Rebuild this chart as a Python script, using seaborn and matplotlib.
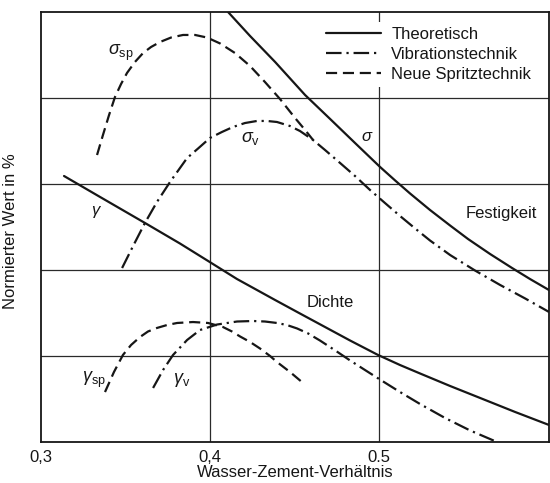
import numpy as np
import pandas as pd
import seaborn as sns
import matplotlib
matplotlib.use("Agg")
import matplotlib.pyplot as plt

# Festigkeit (sigma) curves
sig_th_x = [0.4108, 0.4238, 0.4386, 0.4563, 0.4711, 0.4858, 0.5006, 0.5095, 0.5183, 0.5301,
            0.5420, 0.5526, 0.5656, 0.5786, 0.5892, 0.6004]
sig_th_y = [5.000, 4.721, 4.419, 4.035, 3.756, 3.477, 3.198, 3.041, 2.890, 2.698,
            2.517, 2.360, 2.186, 2.023, 1.895, 1.767]

sig_v_x = [0.3482, 0.3547, 0.3617, 0.3688, 0.3765, 0.3866, 0.3931, 0.4001, 0.4072, 0.4137,
           0.4208, 0.4279, 0.4338, 0.4397, 0.4474, 0.4533, 0.4610, 0.4681, 0.4770, 0.4858,
           0.4947, 0.5035, 0.5124, 0.5213, 0.5301, 0.5420, 0.5567, 0.5715, 0.5863, 0.6004]
sig_v_y = [2.023, 2.279, 2.547, 2.791, 3.023, 3.302, 3.413, 3.535, 3.605, 3.663,
           3.709, 3.733, 3.733, 3.721, 3.674, 3.616, 3.512, 3.395, 3.244, 3.093,
           2.930, 2.779, 2.628, 2.483, 2.343, 2.174, 1.994, 1.826, 1.669, 1.512]

sig_sp_x = [0.3334, 0.3369, 0.3405, 0.3440, 0.3476, 0.3511, 0.3558, 0.3606, 0.3653, 0.3706,
            0.3771, 0.3842, 0.3913, 0.3984, 0.4061, 0.4149, 0.4238, 0.4326, 0.4415, 0.4504,
            0.4563, 0.4610]
sig_sp_y = [3.337, 3.570, 3.802, 4.012, 4.163, 4.291, 4.419, 4.523, 4.593, 4.651,
            4.703, 4.733, 4.733, 4.703, 4.634, 4.523, 4.372, 4.186, 3.988, 3.767,
            3.628, 3.512]

# Dichte (gamma) curves
gam_th_x = [0.3139, 0.3352, 0.3617, 0.3824, 0.3990, 0.4161, 0.4386, 0.4533, 0.4681, 0.4829,
            0.4994, 0.5124, 0.5242, 0.5420, 0.5597, 0.5804, 0.6004]
gam_th_y = [3.093, 2.849, 2.547, 2.308, 2.105, 1.895, 1.651, 1.494, 1.337, 1.180,
            1.012, 0.895, 0.797, 0.651, 0.512, 0.349, 0.198]

gam_v_x = [0.3665, 0.3724, 0.3783, 0.3866, 0.3942, 0.4043, 0.4161, 0.4256, 0.4326, 0.4397,
           0.4456, 0.4516, 0.4581, 0.4651, 0.4746, 0.4829, 0.4917, 0.5000, 0.5124, 0.5242,
           0.5390, 0.5538, 0.5697]
gam_v_y = [0.628, 0.837, 1.012, 1.186, 1.302, 1.366, 1.401, 1.407, 1.401, 1.384,
           1.360, 1.320, 1.262, 1.180, 1.058, 0.948, 0.837, 0.733, 0.581, 0.442,
           0.279, 0.134, 0.000]

gam_sp_x = [0.3381, 0.3434, 0.3487, 0.3535, 0.3588, 0.3635, 0.3688, 0.3747, 0.3807, 0.3901,
            0.3990, 0.4078, 0.4131, 0.4179, 0.4238, 0.4297, 0.4356, 0.4397, 0.4474, 0.4551]
gam_sp_y = [0.581, 0.814, 1.012, 1.128, 1.221, 1.285, 1.326, 1.360, 1.384, 1.395,
            1.384, 1.337, 1.285, 1.227, 1.163, 1.087, 1.000, 0.930, 0.814, 0.686]

x_ticks = [0.3, 0.4, 0.5]
x_ticklabels = ["0,3", "0,4", "0.5"]
y_grid = [1, 2, 3, 4]
legend_labels = ["Theoretisch", "Vibrationstechnik", "Neue Spritztechnik"]

sns.set_style("white")
plt.rcParams['font.family'] = ['Liberation Sans', 'DejaVu Sans']
plt.rcParams['font.size'] = 12
plt.rcParams['mathtext.fontset'] = 'custom'
plt.rcParams['mathtext.rm'] = 'Liberation Sans'
plt.rcParams['mathtext.it'] = 'Liberation Sans:italic'

ink = '#161616'
solid = '-'
dashdot = (0, (7, 2.2, 1, 2.2))
dashed = (0, (5, 2.6))

fig = plt.figure(figsize=(5.5, 4.83), dpi=100)
ax = fig.add_axes([40.5 / 550, 41 / 483, 508.5 / 550, 430 / 483])

curves = [
    (sig_th_x, sig_th_y, solid, legend_labels[0]),
    (sig_v_x, sig_v_y, dashdot, legend_labels[1]),
    (sig_sp_x, sig_sp_y, dashed, legend_labels[2]),
    (gam_th_x, gam_th_y, solid, None),
    (gam_v_x, gam_v_y, dashdot, None),
    (gam_sp_x, gam_sp_y, dashed, None),
]
for xs, ys, ls, lab in curves:
    df = pd.DataFrame({"x": xs, "y": ys})
    sns.lineplot(data=df, x="x", y="y", ax=ax, sort=False, estimator=None,
                 color=ink, linestyle=ls, linewidth=1.6, label=lab, zorder=3)

# grid
for g in y_grid:
    ax.axhline(g, color='#2a2a2a', lw=0.9, zorder=1)
for g in x_ticks[1:]:
    ax.axvline(g, color='#2a2a2a', lw=0.9, zorder=1)

ax.set_xlim(0.3, 0.6004)
ax.set_ylim(0, 5)
ax.set_xticks(x_ticks)
ax.set_xticklabels(x_ticklabels)
ax.set_yticks([])
ax.tick_params(axis='x', length=0, pad=6, labelsize=12, colors=ink)
for s in ax.spines.values():
    s.set_color(ink)
    s.set_linewidth(1.3)

ax.set_xlabel("Wasser-Zement-Verhältnis", fontsize=12, color=ink, labelpad=0)
ax.set_ylabel("Normierter Wert in %", fontsize=12, color=ink)
ax.yaxis.set_label_coords(-0.044, 0.49)

# curve labels
ax.text(0.3396, 4.52, r"$\sigma_{\mathrm{sp}}$", fontsize=13, va='center', color=ink)
ax.text(0.4186, 3.53, r"$\sigma_{\mathrm{v}}$", fontsize=13, va='center', color=ink)
ax.text(0.4895, 3.55, r"$\sigma$", fontsize=12, va='center', color=ink)
ax.text(0.3334, 2.67, r"$\gamma$", fontsize=12, va='center', ha='center', color=ink)
ax.text(0.3245, 0.72, r"$\gamma_{\mathrm{sp}}$", fontsize=13, va='center', color=ink)
ax.text(0.3783, 0.72, r"$\gamma_{\mathrm{v}}$", fontsize=13, va='center', color=ink)
ax.text(0.4575, 1.62, "Dichte", fontsize=12, va='center', color=ink)
ax.text(0.5514, 2.66, "Festigkeit", fontsize=12, va='center', color=ink)

handles, labels = ax.get_legend_handles_labels()
order = [labels.index(l) for l in legend_labels]
leg = ax.legend([handles[i] for i in order], legend_labels, loc='upper left',
                bbox_to_anchor=(0.536, 0.997), frameon=True, fancybox=False,
                facecolor='white', edgecolor='none', framealpha=1,
                handlelength=3.3, handletextpad=0.6, labelspacing=0.3,
                borderpad=0.3, fontsize=12)
for t in leg.get_texts():
    t.set_color(ink)
leg.set_zorder(5)

fig.savefig("out.png", dpi=100)
